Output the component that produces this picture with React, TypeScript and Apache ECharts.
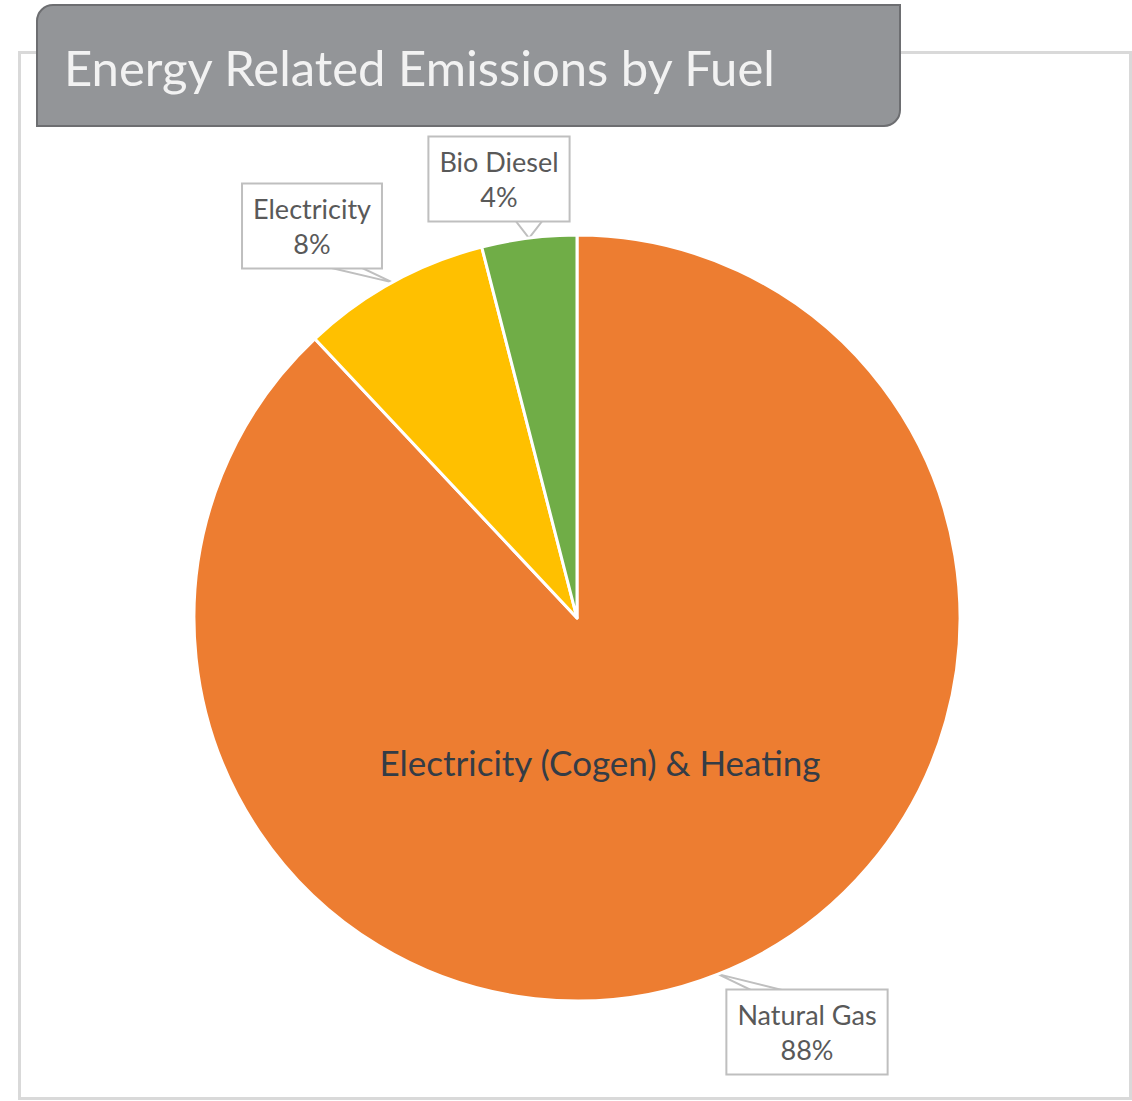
import React, { useEffect, useRef } from "react";
import * as echarts from "echarts";

// Fuel shares of energy related emissions (percent)
const categories = ["Natural Gas", "Electricity", "Bio Diesel"];
const shares = [88, 8, 4];
const sliceColors = ["#ED7D31", "#FFC000", "#70AD47"];
const titleText = "Energy Related Emissions by Fuel";
const centerNote = "Electricity (Cogen) & Heating";

// Pie geometry (px)
const PIE_CX = 577;
const PIE_CY = 618;
const PIE_R = 383;

// Callout boxes: box centre and the two base points of the pointer wedge
const callouts = [
  { cx: 807, cy: 1032, base: [[755, 992], [790, 992]] },
  { cx: 312, cy: 226, base: [[323, 266], [358, 266]] },
  { cx: 499, cy: 179, base: [[515, 220], [543, 220]] },
];

const FONT = "Lato, 'Open Sans', sans-serif";

function tipPoint(index: number): number[] {
  const total = shares.reduce((a, b) => a + b, 0);
  let before = 0;
  for (let i = 0; i < index; i++) before += shares[i];
  const mid = ((before + shares[index] / 2) / total) * Math.PI * 2;
  return [PIE_CX + PIE_R * Math.sin(mid), PIE_CY - PIE_R * Math.cos(mid)];
}

export default function App() {
  const ref = useRef<HTMLDivElement>(null);

  useEffect(() => {
    if (!ref.current) return;
    const chart = echarts.init(ref.current, undefined, { renderer: "svg" });
    chart.setOption({
      animation: false,
      backgroundColor: "#ffffff",
      graphic: [
        {
          type: "rect",
          z: -10,
          shape: { x: 19.5, y: 52.5, width: 1111, height: 1046 },
          style: { fill: "none", stroke: "#d9d9d9", lineWidth: 3 },
        },
        {
          type: "rect",
          z: 10,
          shape: { x: 37, y: 5, width: 863, height: 121, r: [16, 0, 16, 0] },
          style: { fill: "#939598", stroke: "#6d6e71", lineWidth: 2 },
        },
        {
          type: "text",
          z: 11,
          x: 64,
          y: 67,
          style: {
            text: titleText,
            fontFamily: FONT,
            fontSize: 49,
            fill: "#f2f2f2",
            verticalAlign: "middle",
            align: "left",
          },
        },
        {
          type: "text",
          z: 20,
          x: 600,
          y: 762,
          style: {
            text: centerNote,
            fontFamily: FONT,
            fontSize: 35,
            fill: "#343c46",
            verticalAlign: "middle",
            align: "center",
          },
        },
      ],
      series: [
        {
          type: "pie",
          center: [PIE_CX, PIE_CY],
          radius: PIE_R,
          startAngle: 90,
          clockwise: true,
          data: categories.map((name, i) => ({
            name,
            value: shares[i],
            itemStyle: { color: sliceColors[i] },
          })),
          itemStyle: { borderColor: "#ffffff", borderWidth: 3 },
          emphasis: { disabled: true },
          label: {
            show: true,
            position: "outside",
            formatter: "{b}\n{d}%",
            fontFamily: FONT,
            fontSize: 27,
            lineHeight: 35,
            color: "#595959",
            align: "center",
            backgroundColor: "#ffffff",
            borderColor: "#bfbfbf",
            borderWidth: 2,
            padding: [6, 10, 7, 10],
          },
          labelLine: {
            show: true,
            length: 10,
            length2: 10,
            lineStyle: { color: "#bfbfbf", width: 2 },
          },
          labelLayout: (p: any) => {
            const c = callouts[p.dataIndex];
            const tip = tipPoint(p.dataIndex);
            return {
              x: c.cx,
              y: c.cy,
              align: "center",
              verticalAlign: "middle",
              labelLinePoints: [tip, c.base[0], c.base[1], tip],
            };
          },
        },
      ],
    });
    return () => chart.dispose();
  }, []);

  return (
    <div
      ref={ref}
      style={{ position: "absolute", left: 0, top: 0, width: 1132, height: 1101 }}
    />
  );
}
